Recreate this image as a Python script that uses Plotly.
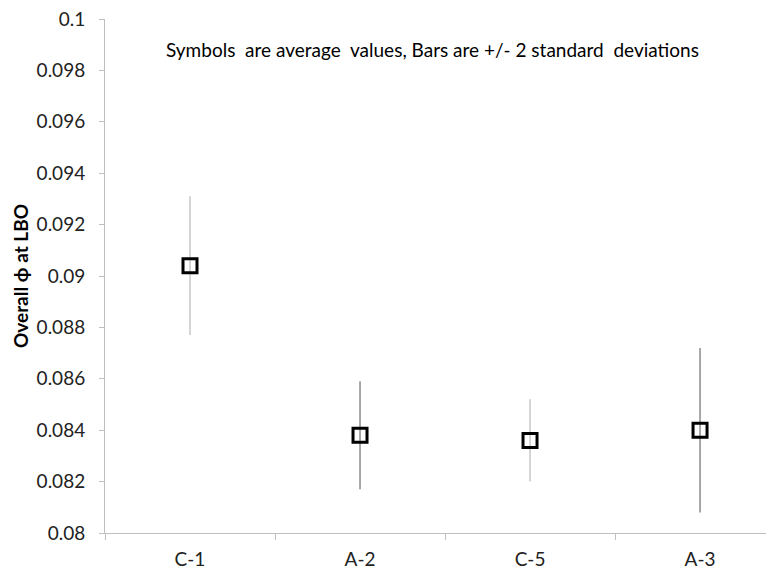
import plotly.graph_objects as go

categories = ["C-1", "A-2", "C-5", "A-3"]
means = [0.0904, 0.0838, 0.0836, 0.0840]
two_sd = [0.0027, 0.0021, 0.0016, 0.0032]
bar_colors = ["#c8c8c8", "#8c8c8c", "#c8c8c8", "#8c8c8c"]
y_tick_vals = [0.08, 0.082, 0.084, 0.086, 0.088, 0.09, 0.092, 0.094, 0.096, 0.098, 0.1]
y_tick_text = ["0.08", "0.082", "0.084", "0.086", "0.088", "0.09", "0.092", "0.094", "0.096", "0.098", "0.1"]

FONT = "Lato, Open Sans, sans-serif"

fig = go.Figure()
for c, m, e, col in zip(categories, means, two_sd, bar_colors):
    fig.add_trace(go.Scatter(
        x=[c], y=[m], mode="markers",
        marker=dict(symbol="square-open", size=14, color="black", line=dict(width=3, color="black")),
        error_y=dict(type="data", array=[e], visible=True, color=col, thickness=1.5, width=0),
        showlegend=False,
    ))

fig.add_annotation(
    text="Symbols  are average  values, Bars are +/- 2 standard  deviations",
    xref="paper", yref="paper", x=0.490, y=0.94, xanchor="center", yanchor="middle",
    showarrow=False, font=dict(family=FONT, size=19, color="black"),
)

fig.update_layout(
    width=774, height=573,
    margin=dict(l=97, r=8, t=11, b=48),
    paper_bgcolor="white", plot_bgcolor="white",
    font=dict(family=FONT, size=19, color="#222"),
    xaxis=dict(
        type="category", categoryorder="array", categoryarray=categories,
        range=[-0.5, 3.435], showgrid=False, zeroline=False, automargin=False,
        showline=True, linecolor="#bfbfbf", linewidth=1,
        ticks="outside", tickson="boundaries", ticklen=6, tickcolor="#bfbfbf",
        ticklabelstandoff=9, ticklabeloverflow="allow",
        tickfont=dict(family=FONT, size=19, color="#222"),
    ),
    yaxis=dict(
        range=[0.08, 0.1], tickvals=y_tick_vals, ticktext=y_tick_text,
        showgrid=False, zeroline=False, automargin=False,
        showline=True, linecolor="#bfbfbf", linewidth=1,
        ticks="outside", ticklen=5, tickcolor="#bfbfbf",
        ticklabelstandoff=10, ticklabeloverflow="allow",
        tickfont=dict(family=FONT, size=19, color="#222"),
        title=dict(text="<b>Overall ϕ at LBO</b>", font=dict(family=FONT, size=19, color="black"), standoff=2),
    ),
)

fig.write_html("out.html")
